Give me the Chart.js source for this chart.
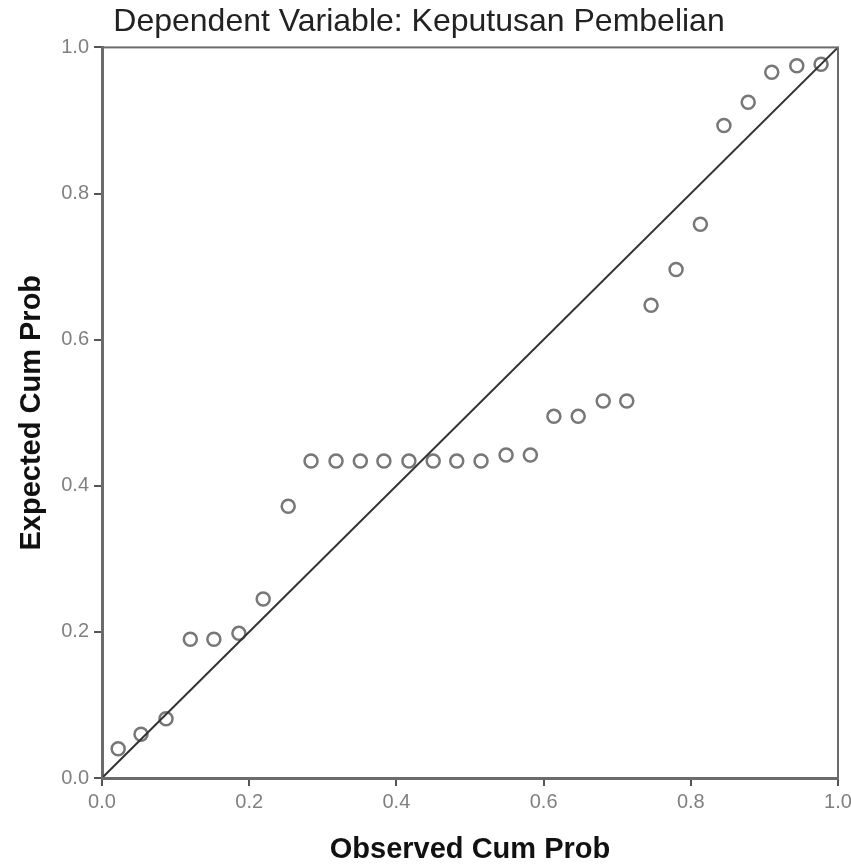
<!DOCTYPE html>
<html lang="en">
<head>
    <meta charset="UTF-8">
    <title>Normal P-P Plot</title>
    <script src="https://cdn.jsdelivr.net/npm/chart.js"></script>
    <style>
        body { margin: 0; background: #fff; }
        #wrap { width: 851px; height: 864px; }
    </style>
</head>
<body>
<div id="wrap"><canvas id="ppChart" width="851" height="864"></canvas></div>

<script>
    // observed vs expected cumulative probability
    var observed = [0.022, 0.053, 0.087, 0.120, 0.152, 0.186, 0.219, 0.253, 0.284, 0.318,
                    0.351, 0.383, 0.417, 0.450, 0.482, 0.515, 0.549, 0.582, 0.614, 0.647,
                    0.681, 0.713, 0.746, 0.780, 0.813, 0.845, 0.878, 0.910, 0.944, 0.977];
    var expected = [0.040, 0.060, 0.081, 0.190, 0.190, 0.198, 0.245, 0.372, 0.434, 0.434,
                    0.434, 0.434, 0.434, 0.434, 0.434, 0.434, 0.442, 0.442, 0.495, 0.495,
                    0.516, 0.516, 0.647, 0.696, 0.758, 0.893, 0.925, 0.966, 0.975, 0.977];
    var refLine = [{x: 0, y: 0}, {x: 1, y: 1}];
    var tickValues = [0, 0.2, 0.4, 0.6, 0.8, 1.0];

    var points = observed.map(function (o, i) {
        return {x: o, y: expected[i]};
    });

    // box around the plot area (top and right edges)
    var frame = {
        id: 'frame',
        afterDatasetsDraw: function (chart) {
            var a = chart.chartArea, c = chart.ctx;
            c.save();
            c.strokeStyle = '#6b6b6b';
            c.lineWidth = 2;
            c.strokeRect(a.left, a.top, a.right - a.left, a.bottom - a.top);
            c.restore();
        }
    };

    var ctx = document.getElementById('ppChart').getContext('2d');
    new Chart(ctx, {
        type: 'scatter',
        data: {
            datasets: [{
                type: 'line',
                data: refLine,
                borderColor: '#333',
                borderWidth: 2,
                pointRadius: 0,
                fill: false
            }, {
                data: points,
                pointRadius: 6.5,
                pointBorderWidth: 2.5,
                borderColor: '#777',
                backgroundColor: 'rgba(0,0,0,0)',
                clip: false
            }]
        },
        options: {
            responsive: false,
            animation: false,
            layout: { padding: { left: 0, right: 13, top: 0, bottom: 0 } },
            plugins: {
                legend: { display: false },
                tooltip: { enabled: false },
                title: {
                    display: true,
                    text: 'Dependent Variable: Keputusan Pembelian',
                    color: '#222',
                    font: { family: 'Liberation Sans', size: 32, weight: 'normal', lineHeight: 1.2 },
                    padding: { top: 3, bottom: 6 }
                }
            },
            scales: {
                x: {
                    type: 'linear',
                    min: 0,
                    max: 1,
                    afterBuildTicks: function (s) {
                        s.ticks = tickValues.map(function (v) { return {value: v}; });
                    },
                    afterFit: function (s) {
                        s.height = 86;
                        s.paddingLeft = 0;
                        s.paddingRight = 0;
                    },
                    grid: { drawOnChartArea: false, tickLength: 8, color: '#555', lineWidth: 2 },
                    border: { color: '#6b6b6b', width: 3 },
                    ticks: {
                        color: '#808080',
                        padding: 4,
                        maxRotation: 0,
                        font: { family: 'Liberation Sans', size: 20 },
                        callback: function (v) { return v.toFixed(1); }
                    },
                    title: {
                        display: true,
                        text: 'Observed Cum Prob',
                        color: '#111',
                        font: { family: 'Liberation Sans', size: 29, weight: 'bold', lineHeight: 1 },
                        padding: { top: 0, bottom: 0 }
                    }
                },
                y: {
                    type: 'linear',
                    min: 0,
                    max: 1,
                    afterBuildTicks: function (s) {
                        s.ticks = tickValues.map(function (v) { return {value: v}; });
                    },
                    afterFit: function (s) {
                        s.width = 102;
                        s.paddingTop = 0;
                        s.paddingBottom = 0;
                    },
                    grid: { drawOnChartArea: false, tickLength: 8, color: '#555', lineWidth: 2 },
                    border: { color: '#6b6b6b', width: 3 },
                    ticks: {
                        color: '#808080',
                        padding: 5,
                        font: { family: 'Liberation Sans', size: 20 },
                        callback: function (v) { return v.toFixed(1); }
                    },
                    title: {
                        display: true,
                        text: 'Expected Cum Prob',
                        color: '#111',
                        font: { family: 'Liberation Sans', size: 29, weight: 'bold', lineHeight: 1.2 },
                        padding: { top: 15, bottom: 0 }
                    }
                }
            }
        },
        plugins: [frame]
    });
</script>
</body>
</html>
